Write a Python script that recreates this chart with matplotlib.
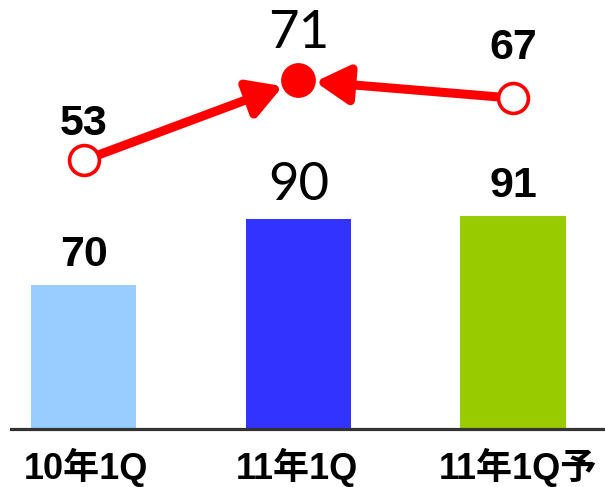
import matplotlib
matplotlib.use("Agg")
import matplotlib.pyplot as plt
from matplotlib.transforms import blended_transform_factory

categories = ["10年1Q", "11年1Q", "11年1Q予"]
bar_values = [70, 90, 91]
line_values = [53, 71, 67]
bar_colors = ["#99CCFF", "#3333FF", "#99CC00"]
highlight = [False, True, False]   # thin-font labels for the middle (actual) quarter

DPI = 100
fig = plt.figure(figsize=(6.05, 4.87), dpi=DPI)
ax = fig.add_axes([11/605, 58/487, 594/605, 429/487])
x = list(range(len(categories)))

ax.bar(x, bar_values, width=0.49, color=bar_colors, zorder=2)
ax.set_xlim(-0.340, 2.429)
ax.set_ylim(26.4, 156.4)
for s in ["top", "right", "left"]:
    ax.spines[s].set_visible(False)
ax.spines["bottom"].set_color("#333333")
ax.spines["bottom"].set_linewidth(2.3)
ax.spines["bottom"].set_zorder(3)
ax.set_xticks([])
ax.set_yticks([])

ax2 = ax.twinx()
ax2.set_ylim(-7.5, 89.1)
ax2.set_xlim(ax.get_xlim())
ax2.axis("off")

bold_font = dict(family=["Liberation Sans", "DejaVu Sans"], weight="bold", size=31)
thin_font = dict(family=["Lato", "DejaVu Sans"], weight="normal", size=38, color="black")

def label_font(h):
    return thin_font if h else bold_font

# bar labels
for xi, v, h in zip(x, bar_values, highlight):
    ax.annotate(str(v), (xi, v), xytext=(0, 10), textcoords="offset pixels",
                ha="center", va="bottom", **label_font(h))

# arrows into the middle point
red = "#FF0000"
for i in (0, 2):
    ax2.annotate("", xy=(1, line_values[1]), xytext=(x[i], line_values[i]),
                 arrowprops=dict(arrowstyle="-|>,head_length=2.0,head_width=1.15",
                                 mutation_scale=10, color=red, lw=6.5,
                                 shrinkA=11, shrinkB=12), zorder=3)

# markers
for xi, v, h in zip(x, line_values, highlight):
    if h:
        ax2.plot([xi], [v], "o", ms=24, color=red, zorder=4)
    else:
        ax2.plot([xi], [v], "o", ms=21.5, mfc="white", mec=red, mew=2.6, zorder=4)

line_label_offsets = [36, 47, 50]
for xi, v, h, off in zip(x, line_values, highlight, line_label_offsets):
    ax2.annotate(str(v), (xi, v), xytext=(0, off), textcoords="offset pixels",
                 ha="center", va="center", **label_font(h))

# category labels (left aligned a distance left of each bar centre)
cat_label_shift = [0.28, 0.29, 0.345]
trans = blended_transform_factory(ax.transData, fig.transFigure)
for xi, c, sh in zip(x, categories, cat_label_shift):
    ax.text(xi - sh, 8/487, c, transform=trans, ha="left", va="baseline",
            family=["Liberation Sans", "Noto Sans CJK JP"], weight="bold",
            size=26, clip_on=False)

fig.savefig("out.png", dpi=DPI)
